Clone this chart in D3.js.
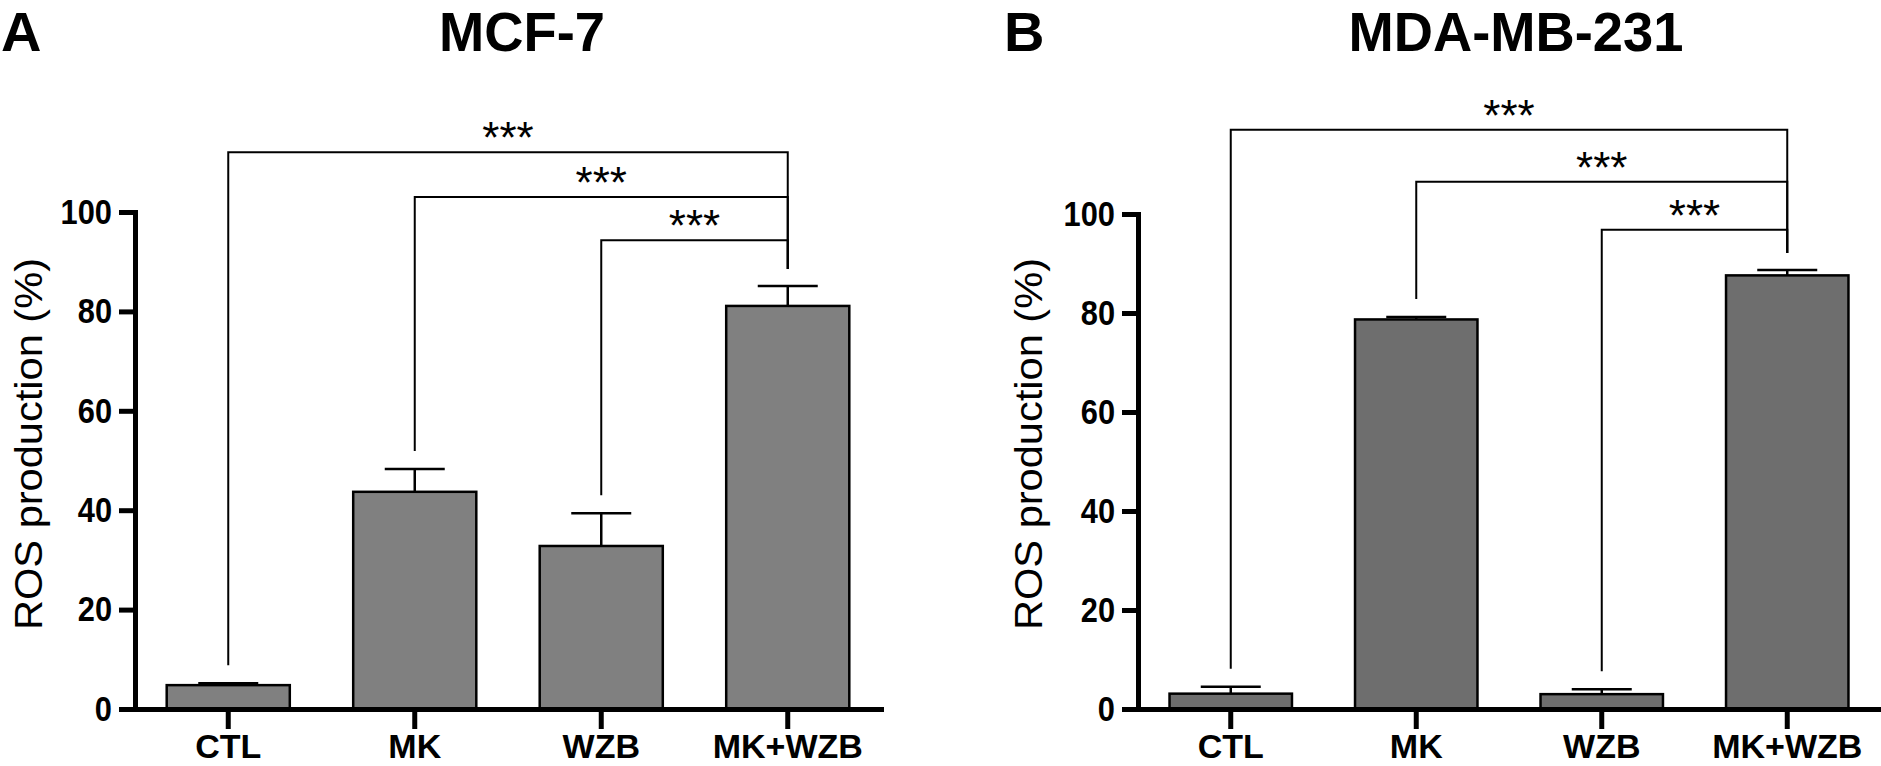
<!DOCTYPE html>
<html>
<head>
<meta charset="utf-8">
<script src="https://cdn.jsdelivr.net/npm/d3@7"></script>
<style>
  body { margin: 0; background: #fff; }
  text { font-family: Arial, "Liberation Sans", sans-serif; }
</style>
</head>
<body>
<div class="chart"></div>
<script>
// groups on the x axis
var groups = ["CTL", "MK", "WZB", "MK+WZB"];
var yTicks = [0, 20, 40, 60, 80, 100];

// MCF-7 (panel A), mean and SEM
var mcfMean = [4.8, 43.7, 32.8, 81.1];
var mcfErr = [0.4, 4.6, 6.6, 4.0];

// MDA-MB-231 (panel B)
var mdaMean = [3.1, 78.7, 3.0, 87.6];
var mdaErr = [1.4, 0.5, 1.0, 1.1];

// significance brackets: [from, to], height in data units, label
var pairs = [[0, 3], [1, 3], [2, 3]];
var mcfBracketAt = [112, 103, 94.3];
var mdaBracketAt = [117, 106.5, 96.8];
var sigLabel = ["***", "***", "***"];

var W = 1881, H = 766;

var svg = d3.select(".chart").append("svg")
    .attr("width", W)
    .attr("height", H);

function squeeze(sel, k) {
  sel.each(function() {
    var len = this.getComputedTextLength();
    d3.select(this).attr("textLength", len * k).attr("lengthAdjust", "spacingAndGlyphs");
  });
}

function panel(opt) {
  var x = d3.scaleBand()
      .domain(groups)
      .range(opt.xRange)
      .paddingInner(0.34)
      .paddingOuter(0.17);
  var y = d3.scaleLinear().domain([0, 100]).range([709, opt.yTop]);
  var data = groups.map(function(g, i) {
    return {g: g, v: opt.mean[i], e: opt.err[i]};
  });

  var g = svg.append("g");

  // bars
  g.selectAll(".bar")
      .data(data)
    .enter().append("rect")
      .attr("x", function(d) { return x(d.g); })
      .attr("y", function(d) { return y(d.v); })
      .attr("width", x.bandwidth())
      .attr("height", function(d) { return y(0) - y(d.v); })
      .attr("fill", opt.fill)
      .attr("stroke", "#000")
      .attr("stroke-width", 2.5);

  // upper error bars
  var cx = function(d) { return x(d.g) + x.bandwidth() / 2; };
  g.selectAll(".err")
      .data(data)
    .enter().append("path")
      .attr("d", function(d) {
        var c = cx(d), t = y(d.v + d.e);
        return "M" + c + "," + y(d.v) + "V" + t + "M" + (c - 30) + "," + t + "H" + (c + 30);
      })
      .attr("stroke", "#000")
      .attr("stroke-width", 2.5)
      .attr("fill", "none");

  // brackets
  pairs.forEach(function(p, i) {
    var a = data[p[0]], b = data[p[1]];
    var by = y(opt.bracketAt[i]);
    var xa = cx(a), xb = cx(b);
    g.append("path")
        .attr("d", "M" + xa + "," + (y(a.v + a.e) - 18) + "V" + by + "H" + xb + "V" + (y(b.v + b.e) - 17))
        .attr("fill", "none")
        .attr("stroke", "#000")
        .attr("stroke-width", 2);
    g.append("text")
        .attr("x", (xa + xb) / 2)
        .attr("y", by + 1)
        .attr("text-anchor", "middle")
        .attr("font-size", 44)
        .text(sigLabel[i]);
  });

  // axes
  var yAxis = g.append("g")
      .attr("transform", "translate(" + opt.xRange[0] + ",0)")
      .call(d3.axisLeft(y).tickValues(yTicks).tickSize(16).tickPadding(7).tickSizeOuter(0));
  var xAxis = g.append("g")
      .attr("transform", "translate(0,709)")
      .call(d3.axisBottom(x).tickSize(20).tickPadding(8).tickSizeOuter(0));

  [yAxis, xAxis].forEach(function(ax) {
    ax.select(".domain").attr("stroke-width", 5).attr("stroke-linecap", "square");
    ax.selectAll(".tick line").attr("stroke-width", 5);
    ax.selectAll("text")
        .attr("fill", "#000")
        .attr("font-family", "Arial, 'Liberation Sans', sans-serif")
        .attr("font-weight", "bold")
        .attr("font-size", 35);
  });
  squeeze(yAxis.selectAll("text"), 0.88);
  // x labels: pin baseline so the text stays inside the picture
  xAxis.selectAll(".tick text")
      .attr("y", 49)
      .attr("dy", null)
      .attr("font-size", 34);

  // axis title
  g.append("text")
      .attr("transform", "translate(" + opt.labelX + "," + 444 + ") rotate(-90)")
      .attr("text-anchor", "middle")
      .attr("font-size", 39)
      .attr("textLength", 372)
      .attr("lengthAdjust", "spacingAndGlyphs")
      .text("ROS production (%)");

  // title and panel letter
  var t = g.append("text")
      .attr("x", opt.titleX)
      .attr("y", 51)
      .attr("text-anchor", "middle")
      .attr("font-size", 56)
      .attr("font-weight", "bold")
      .text(opt.title);
  squeeze(t, 0.97);
  g.append("text")
      .attr("x", opt.letterX)
      .attr("y", 51)
      .attr("font-size", 56)
      .attr("font-weight", "bold")
      .text(opt.letter);
}

panel({
  title: "MCF-7", letter: "A", titleX: 522, letterX: 1, labelX: 42,
  xRange: [135, 881], yTop: 212, fill: "#808080",
  mean: mcfMean, err: mcfErr, bracketAt: mcfBracketAt
});

panel({
  title: "MDA-MB-231", letter: "B", titleX: 1516, letterX: 1004, labelX: 1042,
  xRange: [1138, 1880], yTop: 214, fill: "#6e6e6e",
  mean: mdaMean, err: mdaErr, bracketAt: mdaBracketAt
});
</script>
</body>
</html>
